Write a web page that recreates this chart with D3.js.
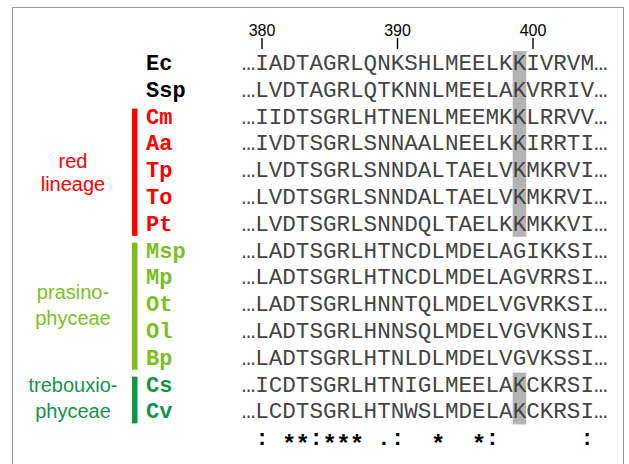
<!DOCTYPE html>
<html><head><meta charset="utf-8">
<script src="https://cdn.jsdelivr.net/npm/d3@7"></script>
<style>html,body{margin:0;padding:0;background:#fff;}</style>
</head><body>
<svg id="c" width="629" height="464"></svg>
<script>
const species = ["Ec","Ssp","Cm","Aa","Tp","To","Pt","Msp","Mp","Ot","Ol","Bp","Cs","Cv"];
const speciesGroup = ["none","none","red","red","red","red","red","pras","pras","pras","pras","pras","treb","treb"];
const sequences = [
  "IADTAGRLQNKSHLMEELKKIVRVM",
  "LVDTAGRLQTKNNLMEELAKVRRIV",
  "IIDTSGRLHTNENLMEEMKKLRRVV",
  "IVDTSGRLSNNAALNEELKKIRRTI",
  "LVDTSGRLSNNDALTAELVKMKRVI",
  "LVDTSGRLSNNDALTAELVKMKRVI",
  "LVDTSGRLSNNDQLTAELKKMKKVI",
  "LADTSGRLHTNCDLMDELAGIKKSI",
  "LADTSGRLHTNCDLMDELAGVRRSI",
  "LADTSGRLHNNTQLMDELVGVRKSI",
  "LADTSGRLHNNSQLMDELVGVKNSI",
  "LADTSGRLHTNLDLMDELVGVKSSI",
  "ICDTSGRLHTNIGLMEELAKCKRSI",
  "LCDTSGRLHTNWSLMDELAKCKRSI"
];
const conservation = ": **:*** .:  *  *:      :";
const startPos = 380;
const tickPositions = [380, 390, 400];
const highlightPos = 399;
const highlightRuns = [["Ec","Pt"],["Cs","Cv"]];
const groupIds = ["red","pras","treb"];
const groupLabels = [["red","lineage"],["prasino-","phyceae"],["trebouxio-","phyceae"]];
const groupColors = {none:"#000000", red:"#ff0000", pras:"#7bbf1e", treb:"#129448"};

const svg = d3.select("#c");
const W = 629, H = 464;
svg.append("rect").attr("x",0).attr("y",0).attr("width",W).attr("height",H).attr("fill","#fff");
svg.append("rect").attr("x",12.5).attr("y",7.5).attr("width",611).attr("height",480)
  .attr("fill","#fff").attr("stroke","#9a9a9a").attr("stroke-width",1);

const nCols = sequences[0].length;
const x = d3.scaleLinear().domain([startPos, startPos + nCols - 1]).range([262, 262 + (nCols-1)*13.55]);
const y = d3.scalePoint().domain(species.concat(["cons"])).range([63, 63 + species.length*26.8]);

const mono = "'Courier New', 'Liberation Mono', monospace";
const sans = "Arial, 'Liberation Sans', sans-serif";

// highlight column
highlightRuns.forEach(([a,b]) => {
  svg.append("rect")
    .attr("x", x(highlightPos) - 6.8).attr("width", 13.6)
    .attr("y", y(a) - 12).attr("height", y(b) - y(a) + 25)
    .attr("fill", "#b3b3b3");
});

// position ticks
const tk = svg.append("g");
tk.selectAll("line").data(tickPositions).join("line")
  .attr("x1", d => x(d)).attr("x2", d => x(d)).attr("y1", 38).attr("y2", 49)
  .attr("stroke", "#000").attr("stroke-width", 1.4);
tk.selectAll("text").data(tickPositions).join("text")
  .attr("x", d => x(d)).attr("y", 36).attr("text-anchor","middle")
  .attr("font-family", sans).attr("font-size", 16).attr("fill","#000")
  .text(d => d);

// species labels
svg.append("g").selectAll("text").data(species).join("text")
  .attr("x", 146).attr("y", d => y(d) + 7)
  .attr("font-family", mono).attr("font-weight","bold").attr("font-size", 22)
  .attr("fill", (d,i) => groupColors[speciesGroup[i]])
  .text(d => d);

// sequences
const rows = svg.append("g").selectAll("g").data(sequences).join("g")
  .attr("transform", (d,i) => `translate(0,${y(species[i]) + 7})`);
rows.selectAll("text.res").data(d => d.split("").map((c,j)=>({c, p:startPos+j}))).join("text")
  .attr("class","res")
  .attr("x", d => x(d.p)).attr("y", 0).attr("text-anchor","middle")
  .attr("font-family", mono).attr("font-size", 22.6).attr("fill","#444")
  .text(d => d.c);
rows.selectAll("text.ell").data([startPos-1, startPos+nCols]).join("text")
  .attr("class","ell")
  .attr("x", d => x(d)).attr("y", 0).attr("text-anchor","middle")
  .attr("font-family", mono).attr("font-size", 22.6).attr("fill","#444")
  .text("\u2026");

// conservation
const cons = conservation.split("").map((c,j)=>({c, p:startPos+j})).filter(d => d.c !== " ");
svg.append("g").selectAll("text").data(cons).join("text")
  .attr("x", d => x(d.p)).attr("y", d => y("cons") + (d.c === "*" ? 13 : 7))
  .attr("text-anchor","middle")
  .attr("font-family", d => d.c === "*" ? sans : mono)
  .attr("font-weight","bold")
  .attr("font-size", d => d.c === "*" ? 24 : 22)
  .attr("fill","#000")
  .text(d => d.c);

// group bars and labels
const labelBaselines = [[168,191],[299,325],[392,418]];
groupIds.forEach((g, gi) => {
  const members = species.filter((s,i) => speciesGroup[i] === g);
  const y0 = y(members[0]) - 8, y1 = y(members[members.length-1]) + 12;
  svg.append("rect").attr("x", 132).attr("width", 5.5)
    .attr("y", y0).attr("height", y1 - y0).attr("fill", groupColors[g]);
  svg.append("g").selectAll("text").data(groupLabels[gi]).join("text")
    .attr("x", 73).attr("y", (d,k) => labelBaselines[gi][k])
    .attr("text-anchor","middle").attr("font-family", sans).attr("font-size", 20)
    .attr("fill", groupColors[g]).text(d => d);
});
</script>
</body></html>
